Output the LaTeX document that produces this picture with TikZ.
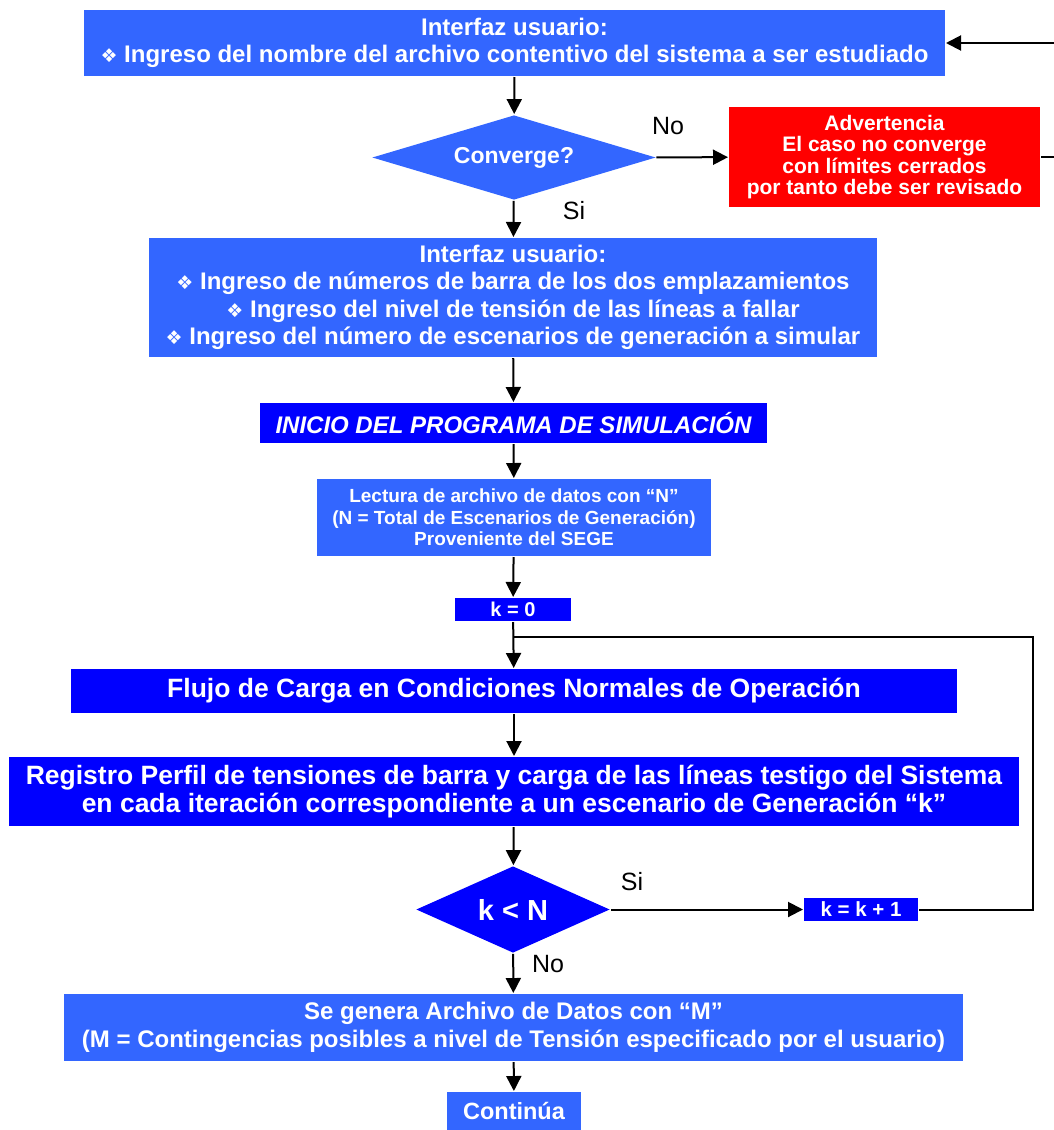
\documentclass[tikz,border=0pt]{standalone}
\usepackage{fontspec}
\setmainfont{Liberation Sans}
\newfontfamily\dingfont{DejaVu Sans}
\usetikzlibrary{shapes.geometric, arrows.meta}

\definecolor{lblue}{RGB}{51,102,255}
\definecolor{dblue}{RGB}{0,0,255}
\newcommand{\diam}{{\dingfont\fontsize{19}{19}\selectfont ❖}\ }

\begin{document}
\begin{tikzpicture}[x=1pt, y=-1pt, ->, >={Triangle[length=15pt,width=15pt]}, line width=2pt]
		\tikzstyle{box}=[fill=lblue, text=white, font=\bfseries, inner sep=0pt, align=center]
		\tikzstyle{dbox}=[box, fill=dblue]
		\tikzstyle{decision}=[box, diamond, aspect=2]
		\tikzstyle{lbl}=[font=\fontsize{25}{29}\selectfont, inner sep=0pt]
		\useasboundingbox (0,0) rectangle (1053,1130);
		
		\node[box, minimum width=861pt, minimum height=66pt, font=\bfseries\fontsize{24}{27}\selectfont] at (514.5,43) (user1) {Interfaz usuario:\\ \diam Ingreso del nombre del archivo contentivo del sistema a ser estudiado};
		\node[decision, minimum width=284pt, minimum height=85pt, font=\bfseries\fontsize{23}{27}\selectfont] at (514,157.5) (conv) {Converge?};
		\node[box, fill=red, minimum width=311pt, minimum height=100pt, font=\bfseries\fontsize{21}{21.2}\selectfont] at (884.5,157) (warn) {Advertencia\\ El caso no converge\\ con límites cerrados\\ por tanto debe ser revisado};
		\node[box, minimum width=728pt, minimum height=119pt, font=\bfseries\fontsize{24}{27.5}\selectfont] at (513,297.5) (user2) {Interfaz usuario:\\ \diam Ingreso de números de barra de los dos emplazamientos\\ \diam Ingreso del nivel de tensión de las líneas a fallar\\ \diam Ingreso del número de escenarios de generación a simular};
		\node[dbox, minimum width=507pt, minimum height=40pt, font=\bfseries\itshape\fontsize{24}{28}\selectfont] at (513.5,423) (start) {INICIO DEL PROGRAMA DE SIMULACIÓN};
		\node[box, minimum width=394pt, minimum height=77pt, font=\bfseries\fontsize{19}{21.5}\selectfont] at (514,517.5) (read) {Lectura de archivo de datos con “N”\\ (N = Total de Escenarios de Generación)\\ Proveniente del SEGE};
		\node[dbox, minimum width=116pt, minimum height=23pt, font=\bfseries\fontsize{20}{22}\selectfont] at (513,609.5) (kzero) {k = 0};
		\node[dbox, minimum width=886pt, minimum height=44pt, font=\bfseries\fontsize{26.5}{30}\selectfont] at (514,691) (flow) {Flujo de Carga en Condiciones Normales de Operación};
		\node[dbox, minimum width=1010pt, minimum height=69pt, font=\bfseries\fontsize{26.5}{28}\selectfont] at (514,791.5) (reg) {Registro Perfil de tensiones de barra y carga de las líneas testigo del Sistema\\ en cada iteración correspondiente a un escenario de Generación “k”};
		\node[decision, fill=dblue, minimum width=194pt, minimum height=87pt, font=\bfseries\fontsize{29}{34}\selectfont] at (513,909.5) (test) {k < N};
		\node[dbox, minimum width=114pt, minimum height=23pt, font=\bfseries\fontsize{20.5}{22}\selectfont] at (861,909.5) (kinc) {k = k + 1};
		\node[box, minimum width=899pt, minimum height=67pt, font=\bfseries\fontsize{24}{28}\selectfont] at (513.5,1027.5) (gen) {Se genera Archivo de Datos con “M”\\ (M = Contingencias posibles a nivel de Tensión especificado por el usuario)};
		\node[box, minimum width=134pt, minimum height=38pt, font=\bfseries\fontsize{23.5}{27}\selectfont] at (514,1111) (cont) {Continúa};
		
		\node[lbl] at (668,126) (no1) {No};
		\node[lbl] at (574,211) (si1) {Si};
		\node[lbl] at (632,882) (si2) {Si};
		\node[lbl] at (548,964) (no2) {No};
		
		\coordinate (back) at (1060,157);
		\coordinate (join) at (513,637);
		\coordinate (loop) at (1033,637);
		
		\path
		(user1) edge (conv)
		(conv) edge (warn)
		(conv) edge (user2)
		(user2) edge (start)
		(start) edge (read)
		(read) edge (kzero)
		(kzero) edge (flow)
		(flow) edge (reg)
		(reg) edge (test)
		(test) edge (kinc)
		(test) edge (gen)
		(gen) edge (cont);
		
		\draw (warn.east) -- (back) |- (user1.east);
		\draw[-] (kinc.east) -| (loop) -- (join);
	\end{tikzpicture}
\end{document}
